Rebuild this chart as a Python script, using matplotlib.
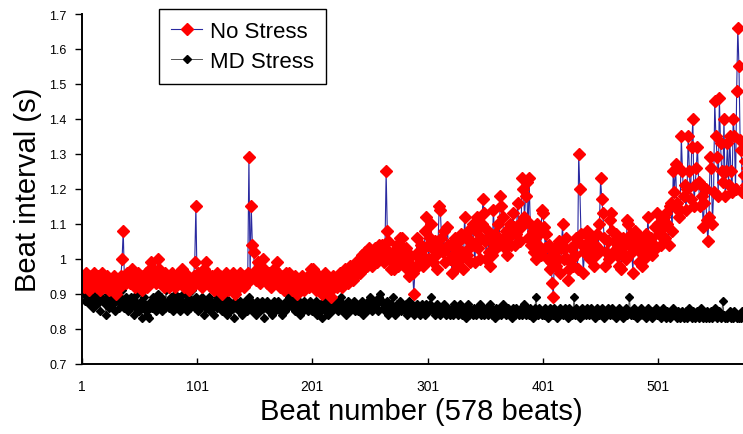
import numpy as np
import matplotlib
matplotlib.use("Agg")
import matplotlib.pyplot as plt

# beat intervals, in hundredths of a second
no_stress_cs = [
    93, 95, 92, 94, 96, 93, 91, 94, 95, 92, 93, 96, 94, 92, 95, 93, 91, 94, 96, 93,
    92, 94, 95, 93, 91, 92, 94, 93, 95, 92, 90, 93, 94, 92, 95, 100, 108, 94, 93, 96,
    94, 95, 93, 96, 97, 94, 92, 95, 93, 96, 94, 92, 91, 95, 93, 94, 96, 92, 95, 97,
    99, 95, 97, 94, 93, 96, 100, 97, 95, 93, 94, 92, 96, 94, 93, 95, 92, 94, 96, 93,
    94, 92, 95, 93, 96, 94, 93, 97, 95, 92, 94, 93, 95, 91, 93, 94, 92, 95, 99, 115,
    94, 96, 93, 95, 92, 94, 97, 95, 99, 96, 93, 94, 92, 95, 93, 91, 94, 96, 93, 92,
    95, 93, 90, 92, 94, 96, 93, 91, 95, 94, 92, 96, 93, 90, 94, 95, 92, 96, 94, 93,
    94, 92, 95, 93, 96, 129, 95, 115, 104, 102, 96, 94, 97, 99, 95, 93, 96, 100, 97, 94,
    95, 93, 96, 94, 92, 95, 93, 97, 95, 99, 96, 94, 92, 95, 93, 91, 94, 96, 92, 93,
    96, 93, 91, 94, 92, 95, 93, 90, 92, 94, 93, 95, 92, 91, 94, 93, 95, 92, 94, 97,
    95, 97, 93, 91, 94, 92, 95, 93, 90, 92, 94, 96, 93, 91, 94, 92, 89, 93, 95, 92,
    94, 92, 95, 93, 96, 94, 92, 95, 97, 94, 96, 93, 95, 98, 96, 94, 97, 95, 99, 96,
    98, 96, 99, 101, 97, 99, 102, 98, 100, 103, 99, 101, 98, 100, 103, 101, 99, 102, 104, 100,
    104, 101, 99, 103, 125, 108, 105, 101, 97, 99, 102, 97, 100, 104, 98, 102, 106, 101, 106, 103,
    99, 103, 97, 100, 95, 101, 98, 96, 90, 97, 101, 106, 102, 99, 104, 101, 98, 103, 108, 112,
    104, 100, 106, 110, 103, 99, 105, 101, 97, 104, 115, 114, 106, 102, 108, 99, 103, 109, 104, 100,
    104, 96, 101, 99, 106, 103, 98, 105, 100, 107, 102, 97, 112, 106, 101, 108, 103, 99, 105, 110,
    104, 99, 108, 112, 103, 100, 106, 110, 117, 113, 105, 100, 108, 102, 98, 105, 101, 114, 107, 103,
    106, 110, 104, 118, 115, 112, 106, 103, 108, 101, 106, 110, 104, 108, 113, 109, 104, 107, 116, 110,
    105, 109, 123, 120, 112, 118, 122, 106, 123, 110, 104, 108, 102, 106, 100, 110, 104, 107, 101, 114,
    113, 109, 103, 107, 100, 104, 97, 99, 93, 89, 102, 98, 104, 100, 105, 96, 103, 110, 100, 103,
    106, 100, 94, 97, 103, 100, 98, 104, 101, 106, 97, 130, 120, 107, 104, 96, 102, 107, 108, 103,
    105, 100, 106, 102, 98, 104, 101, 107, 103, 110, 123, 117, 113, 106, 98, 102, 105, 100, 111, 113,
    108, 102, 105, 107, 101, 104, 98, 103, 97, 106, 101, 104, 100, 111, 110, 104, 107, 102, 96, 107,
    108, 103, 105, 99, 102, 106, 98, 104, 100, 107, 103, 112, 105, 102, 106, 101, 104, 109, 103, 113,
    110, 107, 104, 111, 109, 112, 106, 113, 110, 104, 115, 116, 108, 125, 119, 127, 116, 114, 112, 114,
    135, 125, 118, 121, 114, 120, 135, 125, 117, 132, 140, 115, 121, 126, 132, 122, 115, 121, 118, 109,
    116, 120, 111, 105, 112, 129, 126, 110, 119, 145, 135, 129, 118, 146, 133, 125, 122, 140, 118, 125,
    133, 121, 135, 125, 119, 140, 135, 120, 148, 166, 155, 134, 131, 119, 124, 128, 121, 126,
]

md_stress_cs = [
    93, 94, 90, 88, 91, 89, 87, 90, 92, 88, 86, 89, 91, 87, 90, 88, 85, 89, 92, 88,
    87, 84, 89, 90, 86, 88, 91, 87, 89, 85, 88, 90, 86, 89, 87, 91, 88, 86, 89, 87,
    85, 88, 86, 89, 87, 84, 88, 86, 90, 87, 85, 88, 83, 86, 89, 87, 85, 84, 83, 86,
    88, 86, 89, 87, 85, 88, 90, 86, 87, 89, 85, 88, 86, 91, 87, 88, 86, 89, 87, 85,
    88, 90, 86, 87, 89, 85, 88, 87, 90, 86, 88, 85, 89, 87, 86, 88, 91, 87, 86, 89,
    87, 85, 88, 86, 89, 87, 84, 88, 86, 87, 89, 85, 88, 86, 87, 84, 88, 86, 89, 87,
    86, 88, 85, 87, 89, 86, 84, 87, 88, 85, 87, 86, 83, 88, 86, 87, 85, 88, 86, 84,
    87, 86, 88, 85, 87, 89, 86, 88, 85, 87, 86, 84, 88, 86, 87, 85, 88, 86, 83, 87,
    86, 88, 85, 87, 86, 84, 87, 88, 85, 86, 88, 87, 85, 86, 84, 87, 85, 88, 86, 90,
    89, 87, 90, 86, 88, 85, 87, 86, 88, 84, 86, 87, 85, 88, 86, 87, 85, 86, 88, 86,
    85, 87, 86, 88, 84, 86, 87, 85, 83, 86, 88, 85, 87, 86, 84, 86, 87, 85, 88, 86,
    86, 88, 85, 87, 86, 89, 85, 87, 86, 84, 87, 88, 86, 85, 87, 86, 88, 85, 87, 86,
    85, 87, 86, 88, 84, 86, 87, 85, 88, 86, 89, 87, 85, 86, 88, 86, 87, 85, 89, 90,
    88, 86, 87, 85, 86, 88, 84, 86, 87, 85, 89, 86, 84, 87, 85, 86, 88, 85, 87, 86,
    85, 87, 84, 86, 88, 85, 87, 86, 84, 86, 85, 87, 86, 84, 86, 87, 85, 86, 84, 87,
    86, 85, 87, 89, 86, 85, 84, 86, 87, 85, 86, 84, 86, 85, 87, 86, 84, 85, 86, 84,
    85, 86, 84, 87, 85, 86, 84, 85, 87, 86, 84, 85, 86, 83, 85, 87, 84, 86, 85, 84,
    86, 85, 84, 86, 85, 87, 84, 85, 86, 84, 85, 86, 84, 85, 87, 86, 84, 85, 83, 86,
    85, 84, 86, 85, 84, 87, 85, 86, 84, 85, 86, 84, 85, 83, 86, 85, 84, 86, 85, 84,
    85, 86, 84, 85, 87, 84, 86, 85, 84, 86, 85, 83, 85, 86, 89, 85, 84, 86, 85, 84,
    85, 84, 86, 85, 83, 85, 86, 84, 85, 84, 86, 85, 83, 85, 84, 86, 85, 84, 85, 86,
    84, 85, 83, 86, 85, 84, 85, 89, 84, 86, 85, 84, 83, 85, 86, 84, 85, 84, 86, 85,
    84, 85, 86, 84, 85, 83, 84, 86, 85, 84, 85, 86, 84, 83, 85, 84, 86, 85, 84, 85,
    86, 84, 85, 83, 85, 84, 86, 85, 84, 83, 85, 84, 86, 84, 85, 89, 84, 85, 84, 86,
    85, 84, 83, 85, 84, 86, 85, 84, 85, 83, 84, 86, 85, 84, 85, 83, 84, 85, 86, 84,
    84, 85, 83, 84, 86, 85, 84, 83, 85, 84, 83, 85, 84, 86, 85, 84, 83, 85, 84, 83,
    84, 85, 83, 84, 85, 83, 84, 86, 84, 83, 85, 84, 83, 84, 85, 83, 84, 86, 84, 83,
    84, 83, 85, 84, 83, 84, 85, 83, 84, 86, 84, 83, 84, 85, 83, 84, 88, 84, 83, 84,
    83, 84, 85, 83, 84, 83, 85, 84, 83, 84, 83, 84, 83, 85, 84, 83, 84, 83,
]

x_ticks = [1, 101, 201, 301, 401, 501]
y_ticks = [0.7, 0.8, 0.9, 1.0, 1.1, 1.2, 1.3, 1.4, 1.5, 1.6, 1.7]

no_stress = np.array(no_stress_cs) / 100.0
md_stress = np.array(md_stress_cs) / 100.0
beats_ns = np.arange(1, len(no_stress) + 1)
beats_md = np.arange(1, len(md_stress) + 1)

plt.rcParams['font.family'] = ['Liberation Sans', 'DejaVu Sans']

fig = plt.figure(figsize=(7.43, 4.35), dpi=100)
ax = fig.add_axes([0.110, 0.162, 0.890, 0.8035])

md_line, = ax.plot(beats_md, md_stress, color='#555555', lw=0.7,
                   marker='D', ms=3.8, mfc='black', mec='black', label='MD Stress')
ns_line, = ax.plot(beats_ns, no_stress, color='#2a2aa0', lw=0.8,
                   marker='D', ms=6.5, mfc='red', mec='red', label='No Stress')

ax.set_xlim(1, 574.5)
ax.set_ylim(0.7, 1.7)
ax.set_xticks(x_ticks)
ax.set_xticklabels([str(t) for t in x_ticks],
                   family=['Liberation Sans Narrow', 'Liberation Sans'], fontsize=10)
ax.set_yticks(y_ticks)
ax.set_yticklabels([f"{t:g}" for t in y_ticks], fontsize=9)
ax.tick_params(axis='x', direction='in', length=4, width=1, pad=11)
ax.tick_params(axis='y', direction='out', length=5, width=1, pad=6)

for side in ['top', 'right']:
    ax.spines[side].set_visible(False)
for side in ['left', 'bottom']:
    ax.spines[side].set_linewidth(1.4)

ax.set_ylabel('Beat interval (s)', fontsize=21)
ax.yaxis.set_label_coords(-0.060, 0.5)
ax.set_xlabel('Beat number (578 beats)', fontsize=21)
ax.xaxis.set_label_coords(0.513, -0.096)

leg = ax.legend(handles=[ns_line, md_line], loc='upper left',
                bbox_to_anchor=(0.214, 0.977), bbox_transform=fig.transFigure,
                borderaxespad=0, fontsize=16, fancybox=False, framealpha=1,
                edgecolor='black', handlelength=1.4, handletextpad=0.35,
                borderpad=0.55, labelspacing=0.4)
leg.get_frame().set_linewidth(1.0)

fig.savefig('out.png', dpi=100)
